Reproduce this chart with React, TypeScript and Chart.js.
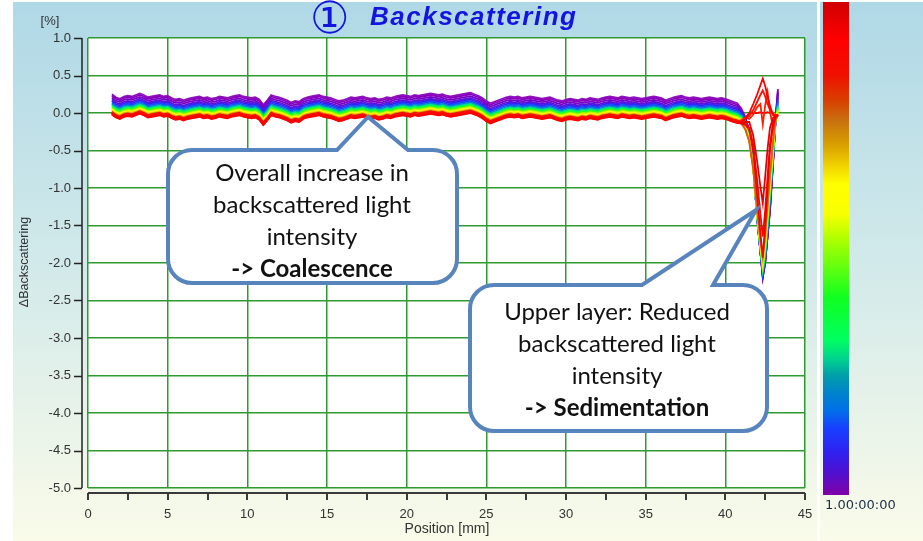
import React, { useEffect, useRef } from 'react';
import { Chart, registerables } from 'chart.js';

Chart.register(...registerables);

// Measurement positions along the sample height [mm]
const positions: number[] = [
  1.5, 1.75, 2.0, 2.25, 2.5, 2.75, 3.0, 3.25,
  3.5, 3.75, 4.0, 4.25, 4.5, 4.75, 5.0, 5.25,
  5.5, 5.75, 6.0, 6.25, 6.5, 6.75, 7.0, 7.25,
  7.5, 7.75, 8.0, 8.25, 8.5, 8.75, 9.0, 9.25,
  9.5, 9.75, 10.0, 10.25, 10.5, 10.75, 11.0, 11.25,
  11.5, 11.75, 12.0, 12.25, 12.5, 12.75, 13.0, 13.25,
  13.5, 13.75, 14.0, 14.25, 14.5, 14.75, 15.0, 15.25,
  15.5, 15.75, 16.0, 16.25, 16.5, 16.75, 17.0, 17.25,
  17.5, 17.75, 18.0, 18.25, 18.5, 18.75, 19.0, 19.25,
  19.5, 19.75, 20.0, 20.25, 20.5, 20.75, 21.0, 21.25,
  21.5, 21.75, 22.0, 22.25, 22.5, 22.75, 23.0, 23.25,
  23.5, 23.75, 24.0, 24.25, 24.5, 24.75, 25.0, 25.25,
  25.5, 25.75, 26.0, 26.25, 26.5, 26.75, 27.0, 27.25,
  27.5, 27.75, 28.0, 28.25, 28.5, 28.75, 29.0, 29.25,
  29.5, 29.75, 30.0, 30.25, 30.5, 30.75, 31.0, 31.25,
  31.5, 31.75, 32.0, 32.25, 32.5, 32.75, 33.0, 33.25,
  33.5, 33.75, 34.0, 34.25, 34.5, 34.75, 35.0, 35.25,
  35.5, 35.75, 36.0, 36.25, 36.5, 36.75, 37.0, 37.25,
  37.5, 37.75, 38.0, 38.25, 38.5, 38.75, 39.0, 39.25,
  39.5, 39.75, 40.0, 40.25, 40.5,
];

// ΔBS of the first scan over the bulk of the sample [%]
const baseProfile: number[] = [
  -0.02, -0.06, -0.08, -0.05, -0.04, -0.05, -0.03, -0.01,
  -0.03, -0.06, -0.05, -0.04, -0.03, -0.05, -0.04, -0.07,
  -0.09, -0.08, -0.1, -0.08, -0.07, -0.06, -0.05, -0.07,
  -0.06, -0.08, -0.07, -0.05, -0.06, -0.07, -0.05, -0.04,
  -0.03, -0.05, -0.06, -0.07, -0.06, -0.09, -0.16, -0.1,
  -0.03, -0.05, -0.06, -0.08, -0.1, -0.13, -0.11, -0.12,
  -0.08, -0.06, -0.05, -0.04, -0.03, -0.05, -0.06, -0.07,
  -0.09, -0.11, -0.1, -0.08, -0.06, -0.07, -0.06, -0.05,
  -0.07, -0.08, -0.07, -0.09, -0.08, -0.06, -0.07, -0.05,
  -0.04, -0.03, -0.04, -0.05, -0.03, -0.04, -0.03, -0.02,
  -0.01, -0.02, -0.03, -0.02, -0.04, -0.05, -0.04, -0.03,
  -0.02, -0.01, 0.0, -0.02, -0.04, -0.07, -0.11, -0.14,
  -0.12, -0.1, -0.08, -0.06, -0.05, -0.06, -0.05, -0.07,
  -0.06, -0.05, -0.06, -0.07, -0.08, -0.07, -0.06, -0.08,
  -0.1, -0.11, -0.09, -0.08, -0.09, -0.1, -0.08, -0.09,
  -0.07, -0.08, -0.09, -0.07, -0.06, -0.05, -0.06, -0.07,
  -0.05, -0.06, -0.07, -0.06, -0.07, -0.08, -0.07, -0.06,
  -0.05, -0.06, -0.07, -0.1, -0.08, -0.06, -0.05, -0.04,
  -0.06, -0.07, -0.06, -0.07, -0.08, -0.07, -0.06, -0.07,
  -0.08, -0.07, -0.08, -0.1, -0.12,
];

// Level of each scan above the first one in the bulk [%]
const scanOffsets: number[] = [
  0, 0.005, 0.01, 0.015, 0.02, 0.025, 0.03,
  0.035, 0.045, 0.055, 0.065, 0.08, 0.095, 0.11,
  0.125, 0.14, 0.16, 0.18, 0.2, 0.225, 0.25, 0.27,
];

// Scan colours, from the first scan (red) to the last one (violet)
const scanColors: string[] = [
  '#ff0000', '#f00000', '#ff1000', '#e80000', '#ff2000', '#ff0000', '#f40808',
  '#d86010', '#e0a000', '#ffe000', '#ffff00', '#b0ff00', '#40ff10', '#00ff50',
  '#00c8a0', '#0080d8', '#1848ff', '#3a20f0', '#6010d8', '#7a00c8', '#8800b8', '#9010c0',
];

// Positions of the top layer [mm]
const dipPositions: number[] = [40.75, 41.0, 41.25, 41.5, 41.75, 42.0, 42.2, 42.35, 42.5, 42.65, 42.8, 43.0, 43.15, 43.3];

// ΔBS of each scan in the top layer [%]
const scanDips: number[][] = [
  [-0.13, -0.12, -0.08, 0.0, 0.12, 0.25, 0.37, 0.46, 0.36, 0.22, 0.1, -0.03, -0.05, -0.03],
  [-0.13, -0.14, -0.16, -0.22, -0.5, -1.1, -1.6, -1.93, -1.5, -1.0, -0.5, -0.15, -0.05, -0.03],
  [-0.12, -0.12, -0.08, -0.04, 0.04, 0.15, 0.24, 0.3, 0.22, 0.12, 0.05, -0.02, -0.05, -0.03],
  [-0.12, -0.13, -0.12, -0.12, -0.3, -0.65, -0.98, -1.2, -0.85, -0.48, -0.2, -0.06, -0.05, -0.03],
  [-0.11, -0.1, -0.06, -0.08, -0.02, 0.08, 0.12, -0.15, 0.1, 0.28, 0.02, -0.2, -0.06, -0.02],
  [-0.11, -0.1, -0.06, -0.01, 0.0, 0.0, 0.01, 0.0, 0.0, 0.01, 0.0, -0.01, -0.03, -0.02],
  [-0.1, -0.12, -0.14, -0.2, -0.42, -0.9, -1.35, -1.65, -1.3, -0.85, -0.42, -0.12, -0.05, -0.02],
  [-0.1, -0.14, -0.22, -0.38, -0.75, -1.3, -1.68, -1.9, -1.62, -1.22, -0.82, -0.36, -0.1, -0.03],
  [-0.09, -0.13, -0.21, -0.37, -0.74, -1.32, -1.72, -1.94, -1.66, -1.26, -0.86, -0.4, -0.1, -0.02],
  [-0.08, -0.12, -0.2, -0.36, -0.74, -1.34, -1.74, -1.97, -1.7, -1.3, -0.9, -0.42, -0.09, 0.0],
  [-0.07, -0.11, -0.19, -0.35, -0.73, -1.35, -1.76, -2.0, -1.74, -1.34, -0.94, -0.45, -0.08, 0.02],
  [-0.05, -0.09, -0.17, -0.33, -0.72, -1.36, -1.78, -2.03, -1.78, -1.38, -0.98, -0.48, -0.08, 0.04],
  [-0.04, -0.08, -0.16, -0.32, -0.72, -1.37, -1.8, -2.06, -1.82, -1.42, -1.02, -0.5, -0.08, 0.06],
  [-0.02, -0.06, -0.14, -0.3, -0.71, -1.38, -1.81, -2.08, -1.85, -1.46, -1.06, -0.53, -0.09, 0.08],
  [-0.01, -0.05, -0.13, -0.29, -0.71, -1.39, -1.82, -2.1, -1.88, -1.5, -1.1, -0.56, -0.1, 0.1],
  [0.01, -0.03, -0.11, -0.28, -0.7, -1.39, -1.83, -2.12, -1.91, -1.54, -1.15, -0.58, -0.1, 0.13],
  [0.03, -0.01, -0.09, -0.27, -0.7, -1.4, -1.84, -2.14, -1.94, -1.58, -1.2, -0.6, -0.1, 0.16],
  [0.05, 0.01, -0.08, -0.26, -0.7, -1.4, -1.85, -2.16, -1.96, -1.61, -1.24, -0.62, -0.1, 0.2],
  [0.07, 0.02, -0.07, -0.25, -0.7, -1.4, -1.85, -2.17, -1.98, -1.63, -1.27, -0.63, -0.1, 0.24],
  [0.09, 0.03, -0.06, -0.25, -0.7, -1.4, -1.85, -2.18, -2.0, -1.65, -1.3, -0.65, -0.1, 0.27],
  [0.11, 0.04, -0.06, -0.25, -0.7, -1.4, -1.85, -2.2, -2.0, -1.65, -1.3, -0.65, -0.1, 0.3],
  [0.13, 0.06, -0.05, -0.24, -0.68, -1.38, -1.84, -2.18, -1.98, -1.64, -1.28, -0.62, -0.08, 0.32],
];

const xTicks = { min: 0, max: 45, step: 5, minorStep: 2.5 };
const yTicks = { min: -5, max: 1, step: 0.5 };

const titleText = 'Backscattering';
const titleMark = '①';
const xTitle = 'Position [mm]';
const yTitle = 'ΔBackscattering';
const yUnit = '[%]';
const timeLabel = '1.00:00:00';

const noteCoalescence = ['Overall increase in', 'backscattered light', 'intensity', '-> Coalescence'];
const noteSedimentation = ['Upper layer: Reduced', 'backscattered light', 'intensity', '-> Sedimentation'];

const W = 923;
const H = 541;
const GRID = '#2f9a2f';

function buildDatasets() {
  return scanColors.map((color, i) => {
    const pts = positions.map((x, j) => ({ x, y: baseProfile[j] + scanOffsets[i] }));
    dipPositions.forEach((x, j) => pts.push({ x, y: scanDips[i][j] }));
    return {
      data: pts,
      borderColor: color,
      borderWidth: 1.8,
      pointRadius: 0,
      tension: 0,
      fill: false,
    };
  });
}

function drawCallout(
  ctx: CanvasRenderingContext2D,
  x0: number, y0: number, x1: number, y1: number, r: number,
  a: number, b: number, ax: number, ay: number,
  lines: string[], cx: number, firstY: number, lh: number,
) {
  ctx.save();
  ctx.beginPath();
  ctx.moveTo(x0 + r, y0);
  ctx.lineTo(a, y0);
  ctx.lineTo(ax, ay);
  ctx.lineTo(b, y0);
  ctx.lineTo(x1 - r, y0);
  ctx.arcTo(x1, y0, x1, y0 + r, r);
  ctx.lineTo(x1, y1 - r);
  ctx.arcTo(x1, y1, x1 - r, y1, r);
  ctx.lineTo(x0 + r, y1);
  ctx.arcTo(x0, y1, x0, y1 - r, r);
  ctx.lineTo(x0, y0 + r);
  ctx.arcTo(x0, y0, x0 + r, y0, r);
  ctx.closePath();
  ctx.fillStyle = '#ffffff';
  ctx.fill();
  ctx.lineWidth = 4;
  ctx.lineJoin = 'miter';
  ctx.strokeStyle = '#5884bd';
  ctx.stroke();
  ctx.fillStyle = '#111111';
  ctx.textAlign = 'center';
  ctx.textBaseline = 'middle';
  lines.forEach((t, i) => {
    const bold = i === lines.length - 1;
    ctx.font = `${bold ? 'bold ' : ''}24px Lato, "Open Sans", sans-serif`;
    ctx.fillText(t, cx, firstY + i * lh);
  });
  ctx.restore();
}

const backdrop = {
  id: 'backdrop',
  beforeDraw(chart: any) {
    const { ctx, chartArea } = chart;
    ctx.save();
    ctx.fillStyle = '#ffffff';
    ctx.fillRect(0, 0, W, H);
    const g = ctx.createLinearGradient(0, 2, 0, H);
    g.addColorStop(0, '#afd8e6');
    g.addColorStop(0.5, '#d3eaea');
    g.addColorStop(1, '#fafbe9');
    ctx.fillStyle = g;
    ctx.fillRect(13, 2, 804, H - 2);
    ctx.fillRect(820, 2, W - 820, H - 2);
    ctx.fillStyle = '#ffffff';
    ctx.fillRect(chartArea.left, chartArea.top, chartArea.right - chartArea.left, chartArea.bottom - chartArea.top);

    // time colour scale
    const cb = ctx.createLinearGradient(0, 2, 0, 495);
    const stops: [number, string][] = [
      [0, '#d00000'], [0.077, '#ff0000'], [0.148, '#f01000'], [0.2, '#d84000'],
      [0.24, '#c87010'], [0.29, '#d8a000'], [0.33, '#f0d000'], [0.37, '#ffff00'],
      [0.43, '#f8ff00'], [0.48, '#b0ff00'], [0.54, '#60ff10'], [0.6, '#10ff20'],
      [0.685, '#00ff60'], [0.726, '#00d090'], [0.756, '#00a0a8'], [0.797, '#0080d0'],
      [0.828, '#0070e8'], [0.864, '#1840ff'], [0.915, '#3020f0'], [0.955, '#5010d0'],
      [1, '#8000a8'],
    ];
    stops.forEach(([o, c]) => cb.addColorStop(o, c));
    ctx.fillStyle = cb;
    ctx.fillRect(823, 2, 26, 493);
    ctx.fillStyle = '#1c2c44';
    ctx.font = '13px "DejaVu Sans", sans-serif';
    ctx.textAlign = 'left';
    ctx.textBaseline = 'middle';
    ctx.fillText(timeLabel, 825, 506);
    ctx.restore();
  },
  afterDraw(chart: any) {
    const { ctx, chartArea, scales } = chart;
    const xs = scales.x;
    const ys = scales.y;
    ctx.save();

    // offset axis lines with tick marks
    ctx.strokeStyle = '#222222';
    ctx.lineWidth = 1.5;
    ctx.beginPath();
    ctx.moveTo(82, chartArea.top);
    ctx.lineTo(82, chartArea.bottom);
    ys.ticks.forEach((t: any) => {
      const y = Math.round(ys.getPixelForValue(t.value)) + 0.5;
      ctx.moveTo(74, y);
      ctx.lineTo(82, y);
    });
    ctx.stroke();

    ctx.strokeStyle = '#3a3a3a';
    ctx.lineWidth = 2;
    ctx.beginPath();
    ctx.moveTo(chartArea.left, 493);
    ctx.lineTo(chartArea.right, 493);
    for (let v = xTicks.min; v <= xTicks.max; v += xTicks.minorStep) {
      const x = Math.round(xs.getPixelForValue(v));
      ctx.moveTo(x, 493);
      ctx.lineTo(x, 500);
    }
    ctx.stroke();

    // axis titles
    ctx.fillStyle = '#333333';
    ctx.font = '14px "Liberation Sans", Arial, sans-serif';
    ctx.textAlign = 'center';
    ctx.textBaseline = 'middle';
    ctx.fillText(xTitle, 447, 529);
    ctx.font = '13px "Liberation Sans", Arial, sans-serif';
    ctx.fillText(yUnit, 50, 21);
    ctx.save();
    ctx.translate(25, 262);
    ctx.rotate(-Math.PI / 2);
    ctx.font = '12.5px "Liberation Sans", Arial, sans-serif';
    ctx.fillText(yTitle, 0, 0);
    ctx.restore();

    // chart title
    ctx.fillStyle = '#1414e0';
    ctx.textAlign = 'left';
    ctx.textBaseline = 'alphabetic';
    ctx.font = 'italic 44px "DejaVu Sans", sans-serif';
    ctx.fillText(titleMark, 310, 33);
    ctx.font = 'italic bold 26px "Liberation Sans", Arial, sans-serif';
    (ctx as any).letterSpacing = '1.5px';
    ctx.fillText(titleText, 370, 25);
    (ctx as any).letterSpacing = '0px';

    // annotations
    drawCallout(ctx, 168, 150, 457, 283, 24, 337, 408, 368, 117, noteCoalescence, 312, 173, 32);
    drawCallout(ctx, 470, 285, 767, 431, 24, 642, 713, 756, 210, noteSedimentation, 617, 312, 32);
    ctx.restore();
  },
};

export default function App() {
  const ref = useRef<HTMLCanvasElement>(null);

  useEffect(() => {
    const canvas = ref.current;
    if (!canvas) return;
    const chart = new Chart(canvas, {
      type: 'line',
      data: { datasets: buildDatasets() as any },
      options: {
        animation: false,
        responsive: false,
        devicePixelRatio: 1,
        events: [],
        layout: { padding: { top: 38, right: W - 805, left: 0, bottom: 0 } },
        plugins: {
          legend: { display: false },
          tooltip: { enabled: false },
          title: { display: false },
        },
        scales: {
          x: {
            type: 'linear',
            min: xTicks.min,
            max: xTicks.max,
            afterFit: (s: any) => { s.height = 53; },
            border: { display: false },
            grid: { color: GRID, lineWidth: 1.5, drawTicks: false },
            ticks: {
              stepSize: xTicks.step,
              padding: 19,
              color: '#333333',
              font: { family: '"Liberation Sans", Arial, sans-serif', size: 13 },
              maxRotation: 0,
            },
          },
          y: {
            type: 'linear',
            min: yTicks.min,
            max: yTicks.max,
            afterFit: (s: any) => { s.width = 88; },
            border: { display: false },
            grid: { color: GRID, lineWidth: 1.5, drawTicks: false },
            ticks: {
              stepSize: yTicks.step,
              padding: 17,
              color: '#333333',
              font: { family: '"Liberation Sans", Arial, sans-serif', size: 13 },
              callback: (v: any) => Number(v).toFixed(1),
            },
          },
        },
      },
      plugins: [backdrop],
    });
    return () => chart.destroy();
  }, []);

  return (
    <div style={{ position: 'fixed', left: 0, top: 0, width: W, height: H }}>
      <canvas ref={ref} width={W} height={H} style={{ display: 'block', width: W, height: H }} />
    </div>
  );
}
